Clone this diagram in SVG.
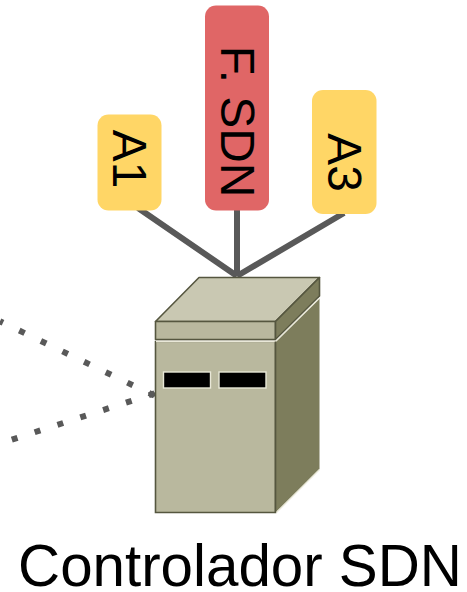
<svg xmlns="http://www.w3.org/2000/svg" width="467" height="592" viewBox="0 0 467 592">
<style>
.t{font-family:"Liberation Sans",Arial,sans-serif;fill:#000}
.v{font-size:47.8px;text-anchor:middle;dominant-baseline:central}
.c{fill:none;stroke:#595959;stroke-width:6}
.d{fill:none;stroke:#595959;stroke-width:6;stroke-dasharray:6 18}
.e{stroke:#55563f;stroke-width:1.6;stroke-linejoin:round}
</style>
<rect width="467" height="592" fill="#fff"/>
<g id="connectors">
<path class="c" d="M138 208L237 276M237 210V276M344 213L237 276"/>
<path class="d" d="M154.400 395.600L0 321.300"/>
<path class="d" d="M154.500 393.400L11 439.900"/>
</g>
<g id="A1"><rect x="97.500" y="114.500" width="64" height="96" rx="11" fill="#ffd666"/><text class="t v" transform="translate(129.500 159) rotate(90)">A1</text></g>
<g id="FSDN"><rect x="205" y="5.500" width="64" height="205" rx="11" fill="#e06666"/><text class="t v" transform="translate(237 121.500) rotate(90)">F. SDN</text></g>
<g id="A3"><rect x="312" y="90" width="64.500" height="124" rx="11" fill="#ffd666"/><text class="t v" transform="translate(344 162.500) rotate(90)">A3</text></g>
<g id="controller">
<path class="e" d="M155.500 321.500L199 277.500H319.500L275.500 321.500Z" fill="#c9c8b2"/>
<path class="e" d="M155.500 321.500H275.500V339.500H155.500Z" fill="#b9b89e"/>
<path class="e" d="M275.500 321.500L319.500 277.500V296L275.500 339.500Z" fill="#7d7d5c"/>
<path d="M155.500 341.500H275.500V512.500H155.500Z" fill="#b9b89e" stroke="#55563f" stroke-width="1.600"/>
<path d="M275.500 341.500L319.500 298.500V469L275.500 512.500Z" fill="#7d7d5c"/>
<path d="M156 341.500H275.500L319 298.500" fill="none" stroke="#e9e8d8" stroke-width="1.400"/>
<path d="M275.500 341.500V512.500" stroke="#55563f" stroke-width="1.600"/>
<path d="M276.500 512.500L319.500 469.500" stroke="#e9e8d8" stroke-width="1.200"/>
<rect x="163.500" y="372" width="47" height="16" fill="#000" stroke="#e9e8d8" stroke-width="1.400"/>
<rect x="219" y="372" width="47" height="16" fill="#000" stroke="#e9e8d8" stroke-width="1.400"/>
</g>
<g id="label"><text class="t" x="240" y="586" font-size="58.300" text-anchor="middle">Controlador SDN</text></g>
</svg>
